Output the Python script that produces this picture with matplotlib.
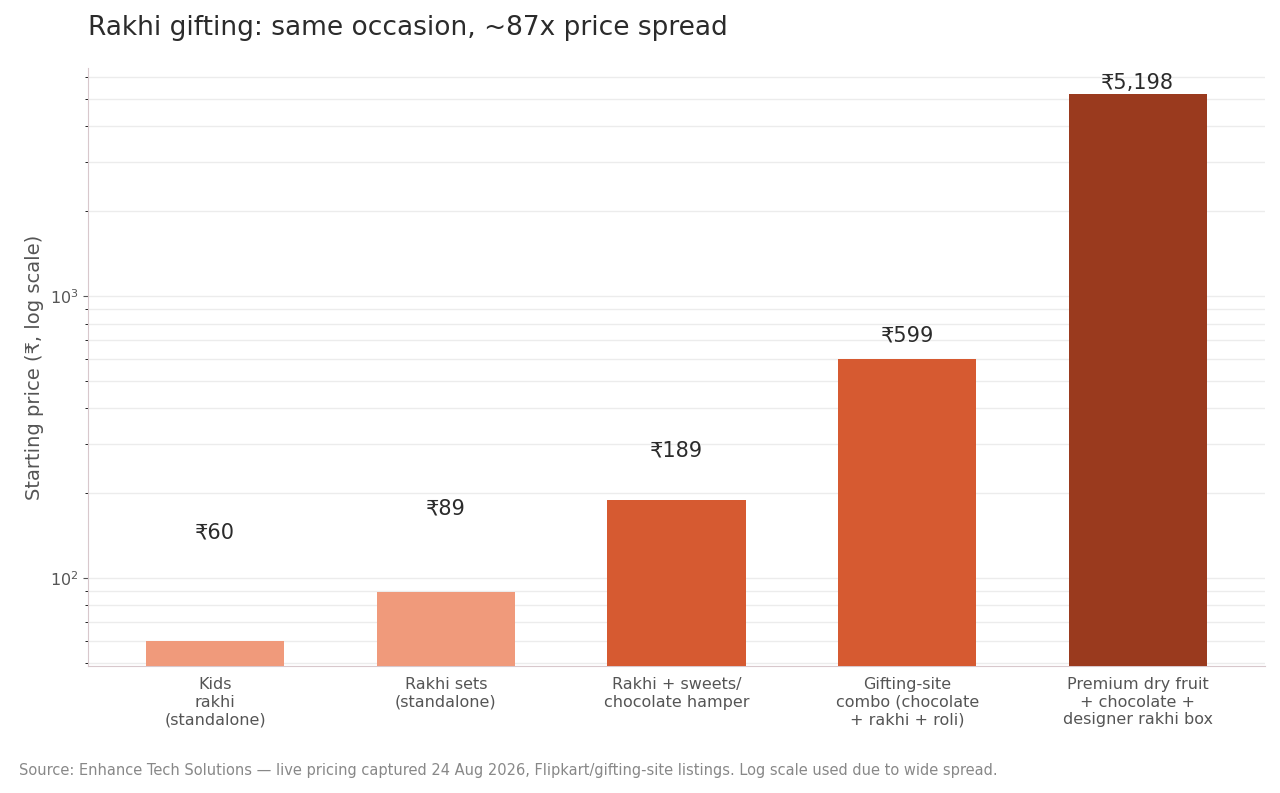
import numpy as np
from matplotlib import pyplot as plt

categories = ['Kids\nrakhi\n(standalone)', 'Rakhi sets\n(standalone)', 'Rakhi + sweets/\nchocolate hamper',
              'Gifting-site\ncombo (chocolate\n+ rakhi + roli)', 'Premium dry fruit\n+ chocolate +\ndesigner rakhi box']
prices = [60, 89, 189, 599, 5198]
labels = ['₹60', '₹89', '₹189', '₹599', '₹5,198']
colors = ['#F09A7B', '#F09A7B', '#D65A31', '#D65A31', '#9A3A1E']


def main():
    plt.rcParams['font.family'] = ['DejaVu Sans']
    fig = plt.figure(figsize=(12.8, 7.93), dpi=100)
    ax = fig.add_axes([0.069, 0.16, 0.919, 0.754])
    x = np.arange(len(prices))
    ax.bar(x, prices, width=0.6, color=colors, zorder=3)
    ax.set_yscale('log')
    ax.set_ylim(48.7, 6440)
    ax.set_xlim(-0.55, 4.55)
    for xi, p, lab in zip(x, prices, labels):
        ax.text(xi, p * 1.08 + 80, lab, ha='center', va='center', fontsize=15, color='#2b2b2b')
    ax.set_xticks(x)
    ax.set_xticklabels(categories, fontsize=11.5, color='#555555')
    ax.tick_params(axis='x', length=0, pad=8)
    ax.tick_params(axis='y', labelsize=11.5, labelcolor='#555555', color='#555555')
    ax.grid(True, which='both', axis='y', color='#ececec', linewidth=1, zorder=0)
    for s in ['top', 'right']:
        ax.spines[s].set_visible(False)
    for s in ['left', 'bottom']:
        ax.spines[s].set_color('#d8c8cc')
    ax.set_ylabel('Starting price (₹, log scale)', fontsize=14, color='#555555')
    fig.text(0.069, 0.965, 'Rakhi gifting: same occasion, ~87x price spread', fontsize=19,
             color='#2b2b2b', va='center')
    fig.text(0.015, 0.028, 'Source: Enhance Tech Solutions — live pricing captured 24 Aug 2026, '
             'Flipkart/gifting-site listings. Log scale used due to wide spread.',
             fontsize=10.5, color='#888888', va='center')
    fig.savefig('out.png', dpi=100)
    plt.close()


if __name__ == '__main__':
    main()
